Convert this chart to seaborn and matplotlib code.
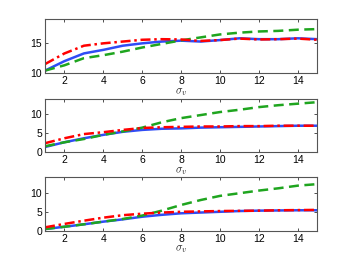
import numpy as np
import pandas as pd
import matplotlib
matplotlib.use("Agg")
import matplotlib.pyplot as plt
import seaborn as sns

sns.set_style("white")
plt.rcParams['font.family'] = ['Liberation Sans', 'DejaVu Sans']
plt.rcParams['mathtext.fontset'] = 'cm'

sigma_v = [1, 2, 3, 4, 5, 6, 7, 8, 9, 10, 11, 12, 13, 14, 15]

# Panel 1
p1_blue = [10.4, 12.0, 13.3, 13.9, 14.6, 15.0, 15.3, 15.45, 15.3, 15.55, 15.85, 15.7, 15.7, 15.85, 15.7]
p1_green = [10.4, 11.3, 12.5, 13.0, 13.6, 14.3, 14.9, 15.5, 16.0, 16.5, 16.8, 17.0, 17.1, 17.3, 17.4]
p1_red = [11.5, 13.3, 14.6, 15.0, 15.3, 15.6, 15.7, 15.65, 15.4, 15.55, 15.8, 15.65, 15.7, 15.8, 15.6]

# Panel 2
p2_blue = [1.4, 2.65, 3.7, 4.6, 5.4, 5.9, 6.2, 6.3, 6.5, 6.6, 6.7, 6.8, 6.9, 7.0, 7.0]
p2_green = [1.6, 2.65, 3.5, 4.6, 5.5, 6.5, 7.9, 9.0, 9.8, 10.6, 11.2, 11.9, 12.4, 12.8, 13.2]
p2_red = [2.4, 3.7, 4.8, 5.3, 5.9, 6.4, 6.6, 6.7, 6.8, 6.8, 6.9, 6.9, 7.0, 7.0, 7.0]

# Panel 3
p3_blue = [0.45, 1.05, 1.7, 2.4, 3.0, 3.7, 4.2, 4.6, 4.8, 5.0, 5.2, 5.3, 5.35, 5.4, 5.4]
p3_green = [0.45, 1.05, 1.7, 2.4, 3.1, 4.0, 5.3, 6.8, 8.1, 9.2, 9.9, 10.6, 11.2, 11.9, 12.3]
p3_red = [0.9, 1.8, 2.65, 3.45, 4.1, 4.5, 4.8, 5.0, 5.1, 5.2, 5.25, 5.3, 5.4, 5.45, 5.5]

panels = [
    (p1_blue, p1_green, p1_red, (10, 19.1), [10, 15]),
    (p2_blue, p2_green, p2_red, (0, 14.1), [0, 5, 10]),
    (p3_blue, p3_green, p3_red, (0, 14.1), [0, 5, 10]),
]
positions = [
    [0.1286, 0.7235, 0.778, 0.2045],
    [0.1286, 0.423, 0.778, 0.203],
    [0.1286, 0.126, 0.778, 0.2024],
]
xticks = [2, 4, 6, 8, 10, 12, 14]

fig = plt.figure(figsize=(3.5, 2.64), dpi=100)
for (b, g, r, ylim, yt), pos in zip(panels, positions):
    ax = fig.add_axes(pos)
    df = pd.DataFrame({"x": sigma_v, "blue": b, "green": g, "red": r})
    sns.lineplot(data=df, x="x", y="blue", ax=ax, color="#2f4cf5", lw=1.8, linestyle="-")
    sns.lineplot(data=df, x="x", y="green", ax=ax, color="#1fa51f", lw=1.8, linestyle=(0, (4, 2.2)))
    sns.lineplot(data=df, x="x", y="red", ax=ax, color="#ff0000", lw=1.8, linestyle=(0, (4, 1.5, 1, 1.5)))
    ax.set_xlim(1, 15)
    ax.set_ylim(*ylim)
    ax.set_xticks(xticks)
    ax.set_yticks(yt)
    ax.tick_params(direction="in", length=2.5, width=0.6, labelsize=7.5, pad=2,
                   top=True, right=True, bottom=True, left=True, colors="#333333",
                   labelcolor="black")
    for s in ax.spines.values():
        s.set_color("#555555")
        s.set_linewidth(0.8)
    ax.set_xlabel(r"$\sigma_v$", fontsize=8, labelpad=0)
    ax.set_ylabel("")

fig.savefig("out.png", dpi=100)
